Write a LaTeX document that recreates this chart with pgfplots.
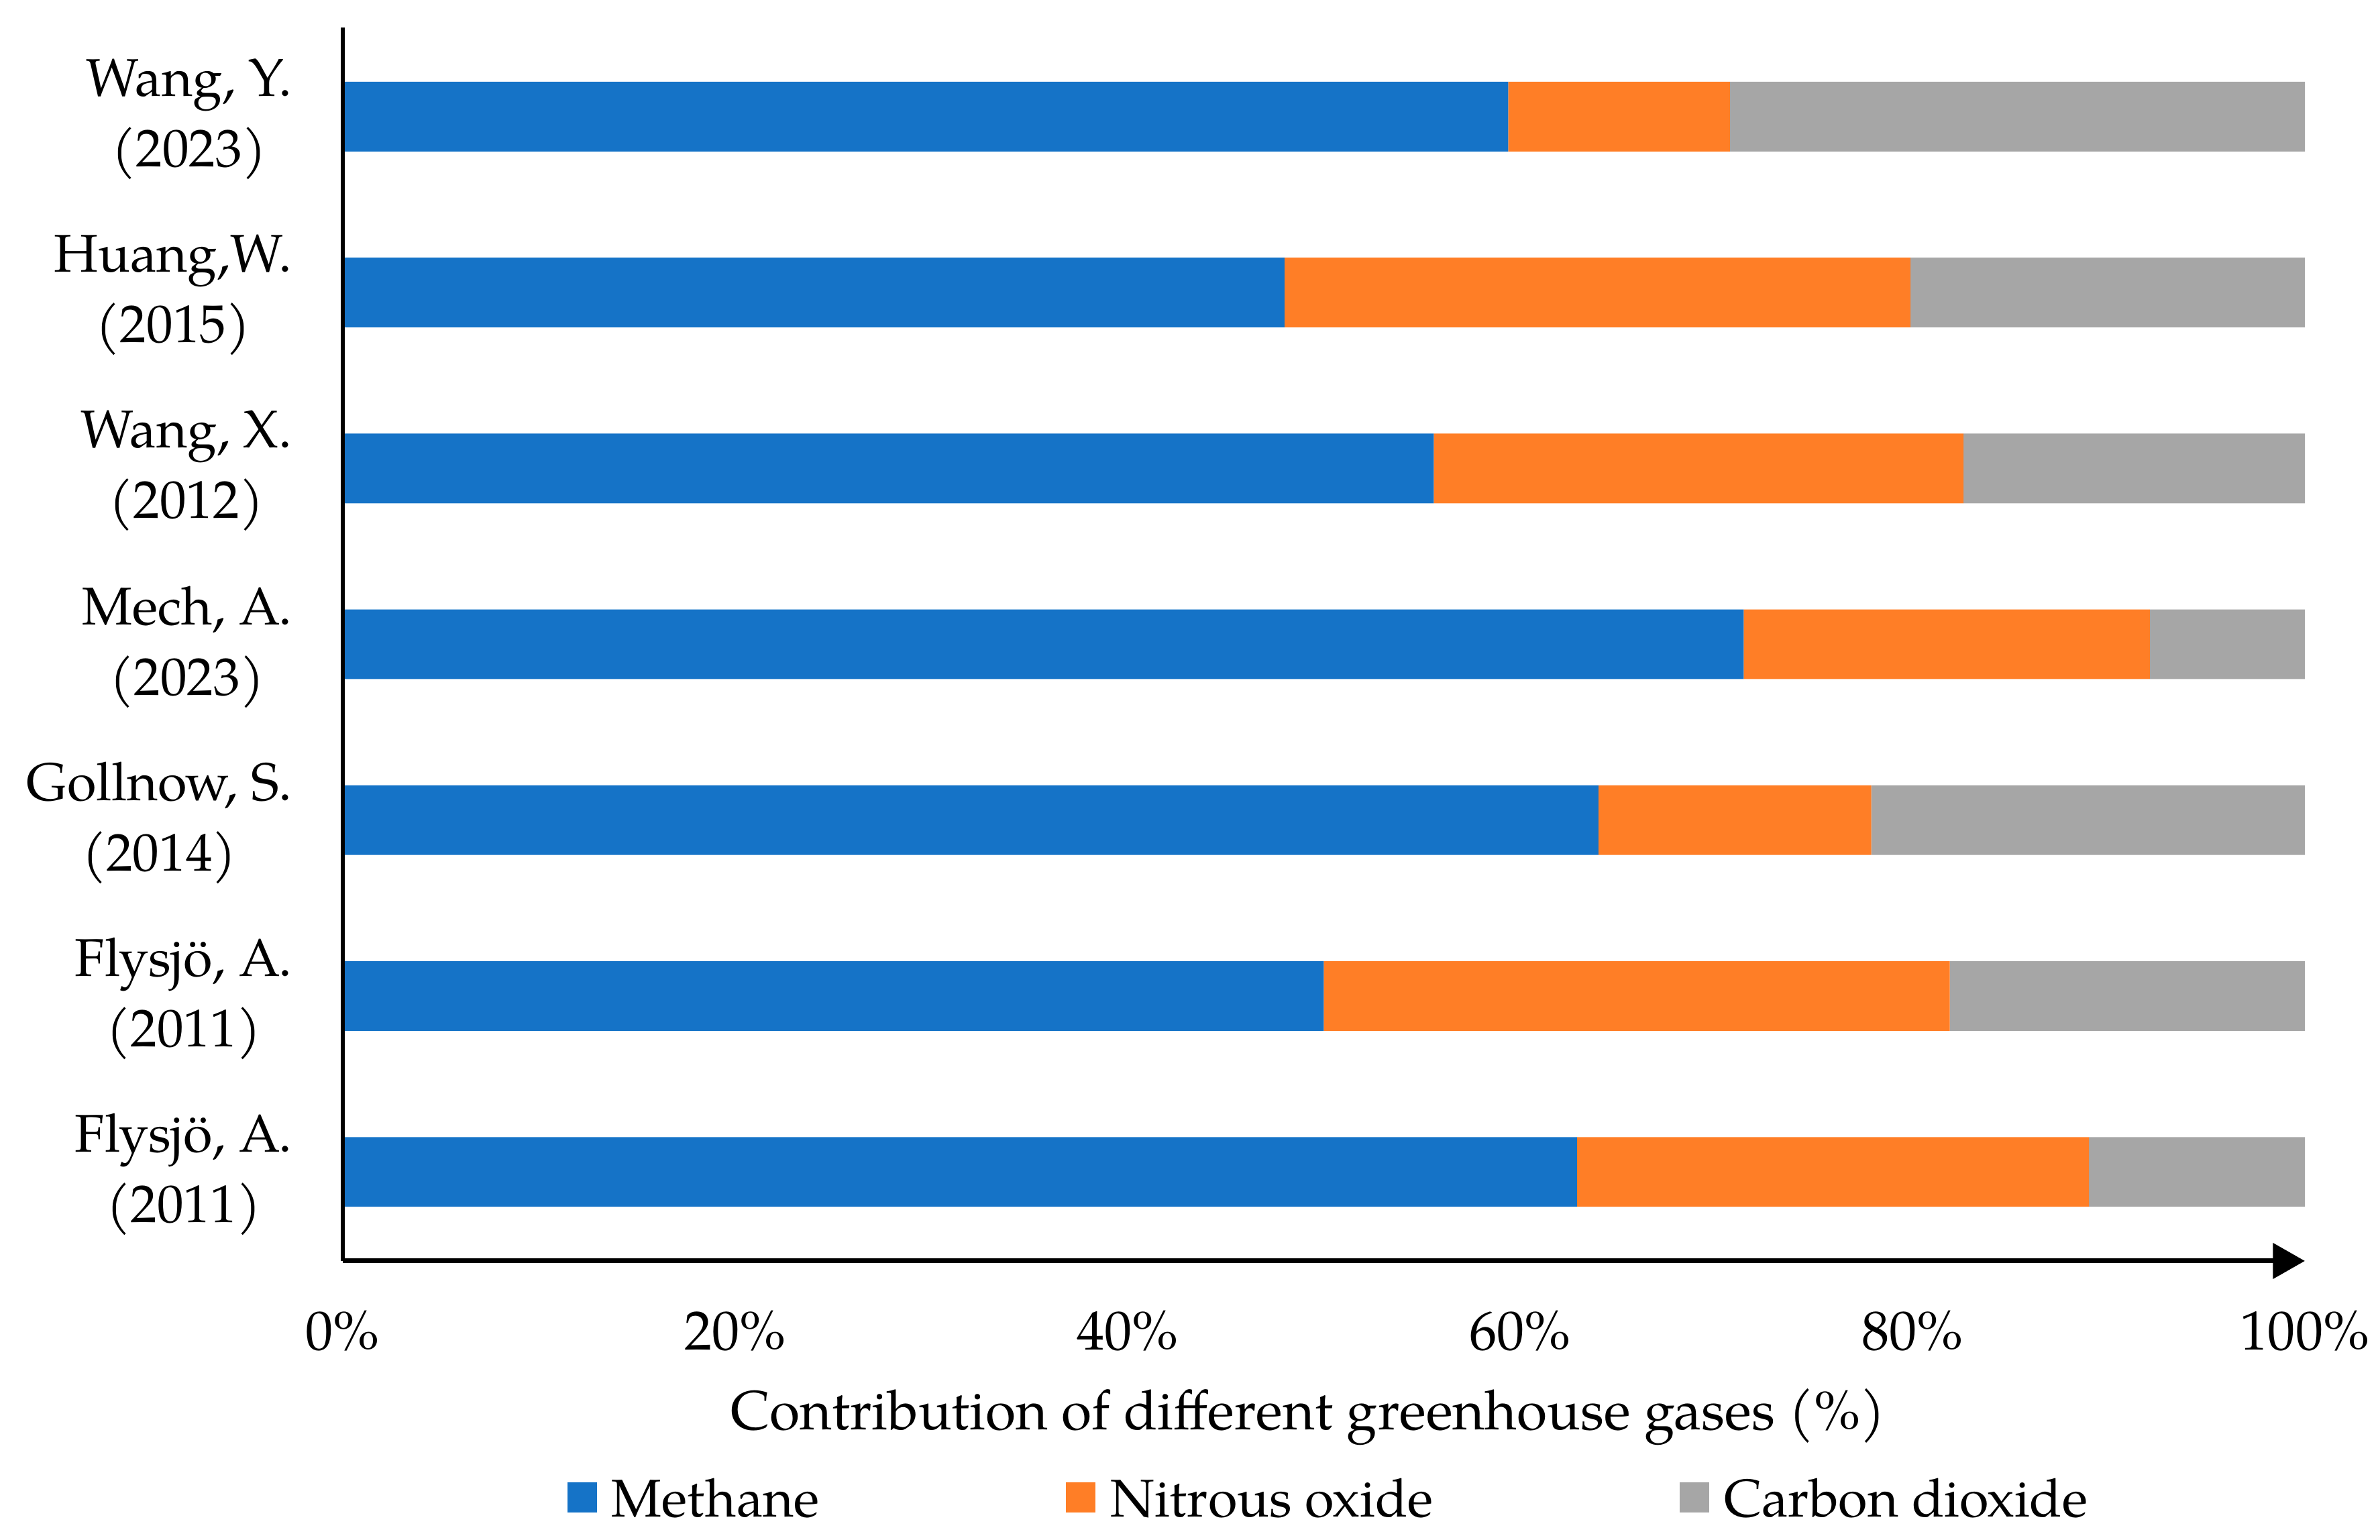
\documentclass[border=0pt]{standalone}
\usepackage{fontspec}
\setmainfont{TeX Gyre Pagella}
\usepackage{pgfplots}
\pgfplotsset{compat=1.18}
\usetikzlibrary{arrows.meta}
\definecolor{cblue}{RGB}{21,115,199}
\definecolor{corange}{RGB}{255,126,38}
\definecolor{cgray}{RGB}{166,166,166}
\begin{document}
\fontsize{10.7}{13.65}\selectfont
\begin{tikzpicture}
\begin{axis}[
  at={(0,0)}, anchor=south west,
  scale only axis, width=380.25pt, height=239.07pt,
  xbar stacked, bar width=13.5pt,
  xmin=0, xmax=100, ymin=-0.506, ymax=6.507,
  enlargelimits=false,
  axis on top,
  axis x line=bottom, axis y line=left,
  axis line style={line width=0.9pt},
  x axis line style={-{Triangle[length=6.2pt,width=6.8pt]}},
  y axis line style={-},
  major tick length=0pt,
  tick style={draw=none},
  xtick={0,20,40,60,80,100},
  xticklabels={0\%,20\%,40\%,60\%,80\%,100\%},
  xticklabel style={anchor=base, yshift=-17.29pt, inner sep=0pt, font=\fontsize{10.7}{13.65}\selectfont},
  ytick={0,1,2,3,4,5,6},
  yticklabels={{Flysjö, A.\\(2011)},{Flysjö, A.\\(2011)},{Gollnow, S.\\(2014)},{Mech, A.\\(2023)},{Wang, X.\\(2012)},{Huang,W.\\(2015)},{Wang, Y.\\(2023)}},
  yticklabel style={align=center, anchor=east, inner sep=0pt, xshift=-9.6pt, yshift=-0.5pt, font=\fontsize{10.3}{13.65}\selectfont},
  xlabel={Contribution of different greenhouse gases (\%)},
  xlabel style={at={(axis description cs:0.492,0)}, anchor=base, yshift=-32.76pt, inner sep=0pt, font=\fontsize{10.7}{13.65}\selectfont},
  legend columns=3,
  legend style={draw=none, fill=none, inner sep=0pt, outer sep=0pt,
    at={(axis description cs:0,0)}, anchor=north west, xshift=43.55pt, yshift=-41.66pt,
    column sep=2.86pt,
    /tikz/every even column/.append style={column sep=47.8pt},
    nodes={inner sep=0pt, text height=8pt, text depth=0pt, font=\fontsize{10.3}{13.65}\selectfont},
    cells={anchor=base west}},
  legend image code/.code={\fill[#1] (0pt,0.9pt) rectangle (5.72pt,6.75pt);},
]
\addplot[fill=cblue, draw=none] coordinates {(62.9,0) (50.0,1) (64.0,2) (71.4,3) (55.6,4) (48.0,5) (59.4,6)};
\addplot[fill=corange, draw=none] coordinates {(26.1,0) (31.9,1) (13.9,2) (20.7,3) (27.0,4) (31.9,5) (11.3,6)};
\addplot[fill=cgray, draw=none] coordinates {(11.0,0) (18.1,1) (22.1,2) (7.9,3) (17.4,4) (20.1,5) (29.3,6)};
\legend{Methane, Nitrous oxide, Carbon dioxide}
\end{axis}
\pgfresetboundingbox
\path[use as bounding box] (-66.43pt,-54.08pt) rectangle (394.81pt,244.4pt);
\end{tikzpicture}
\end{document}
